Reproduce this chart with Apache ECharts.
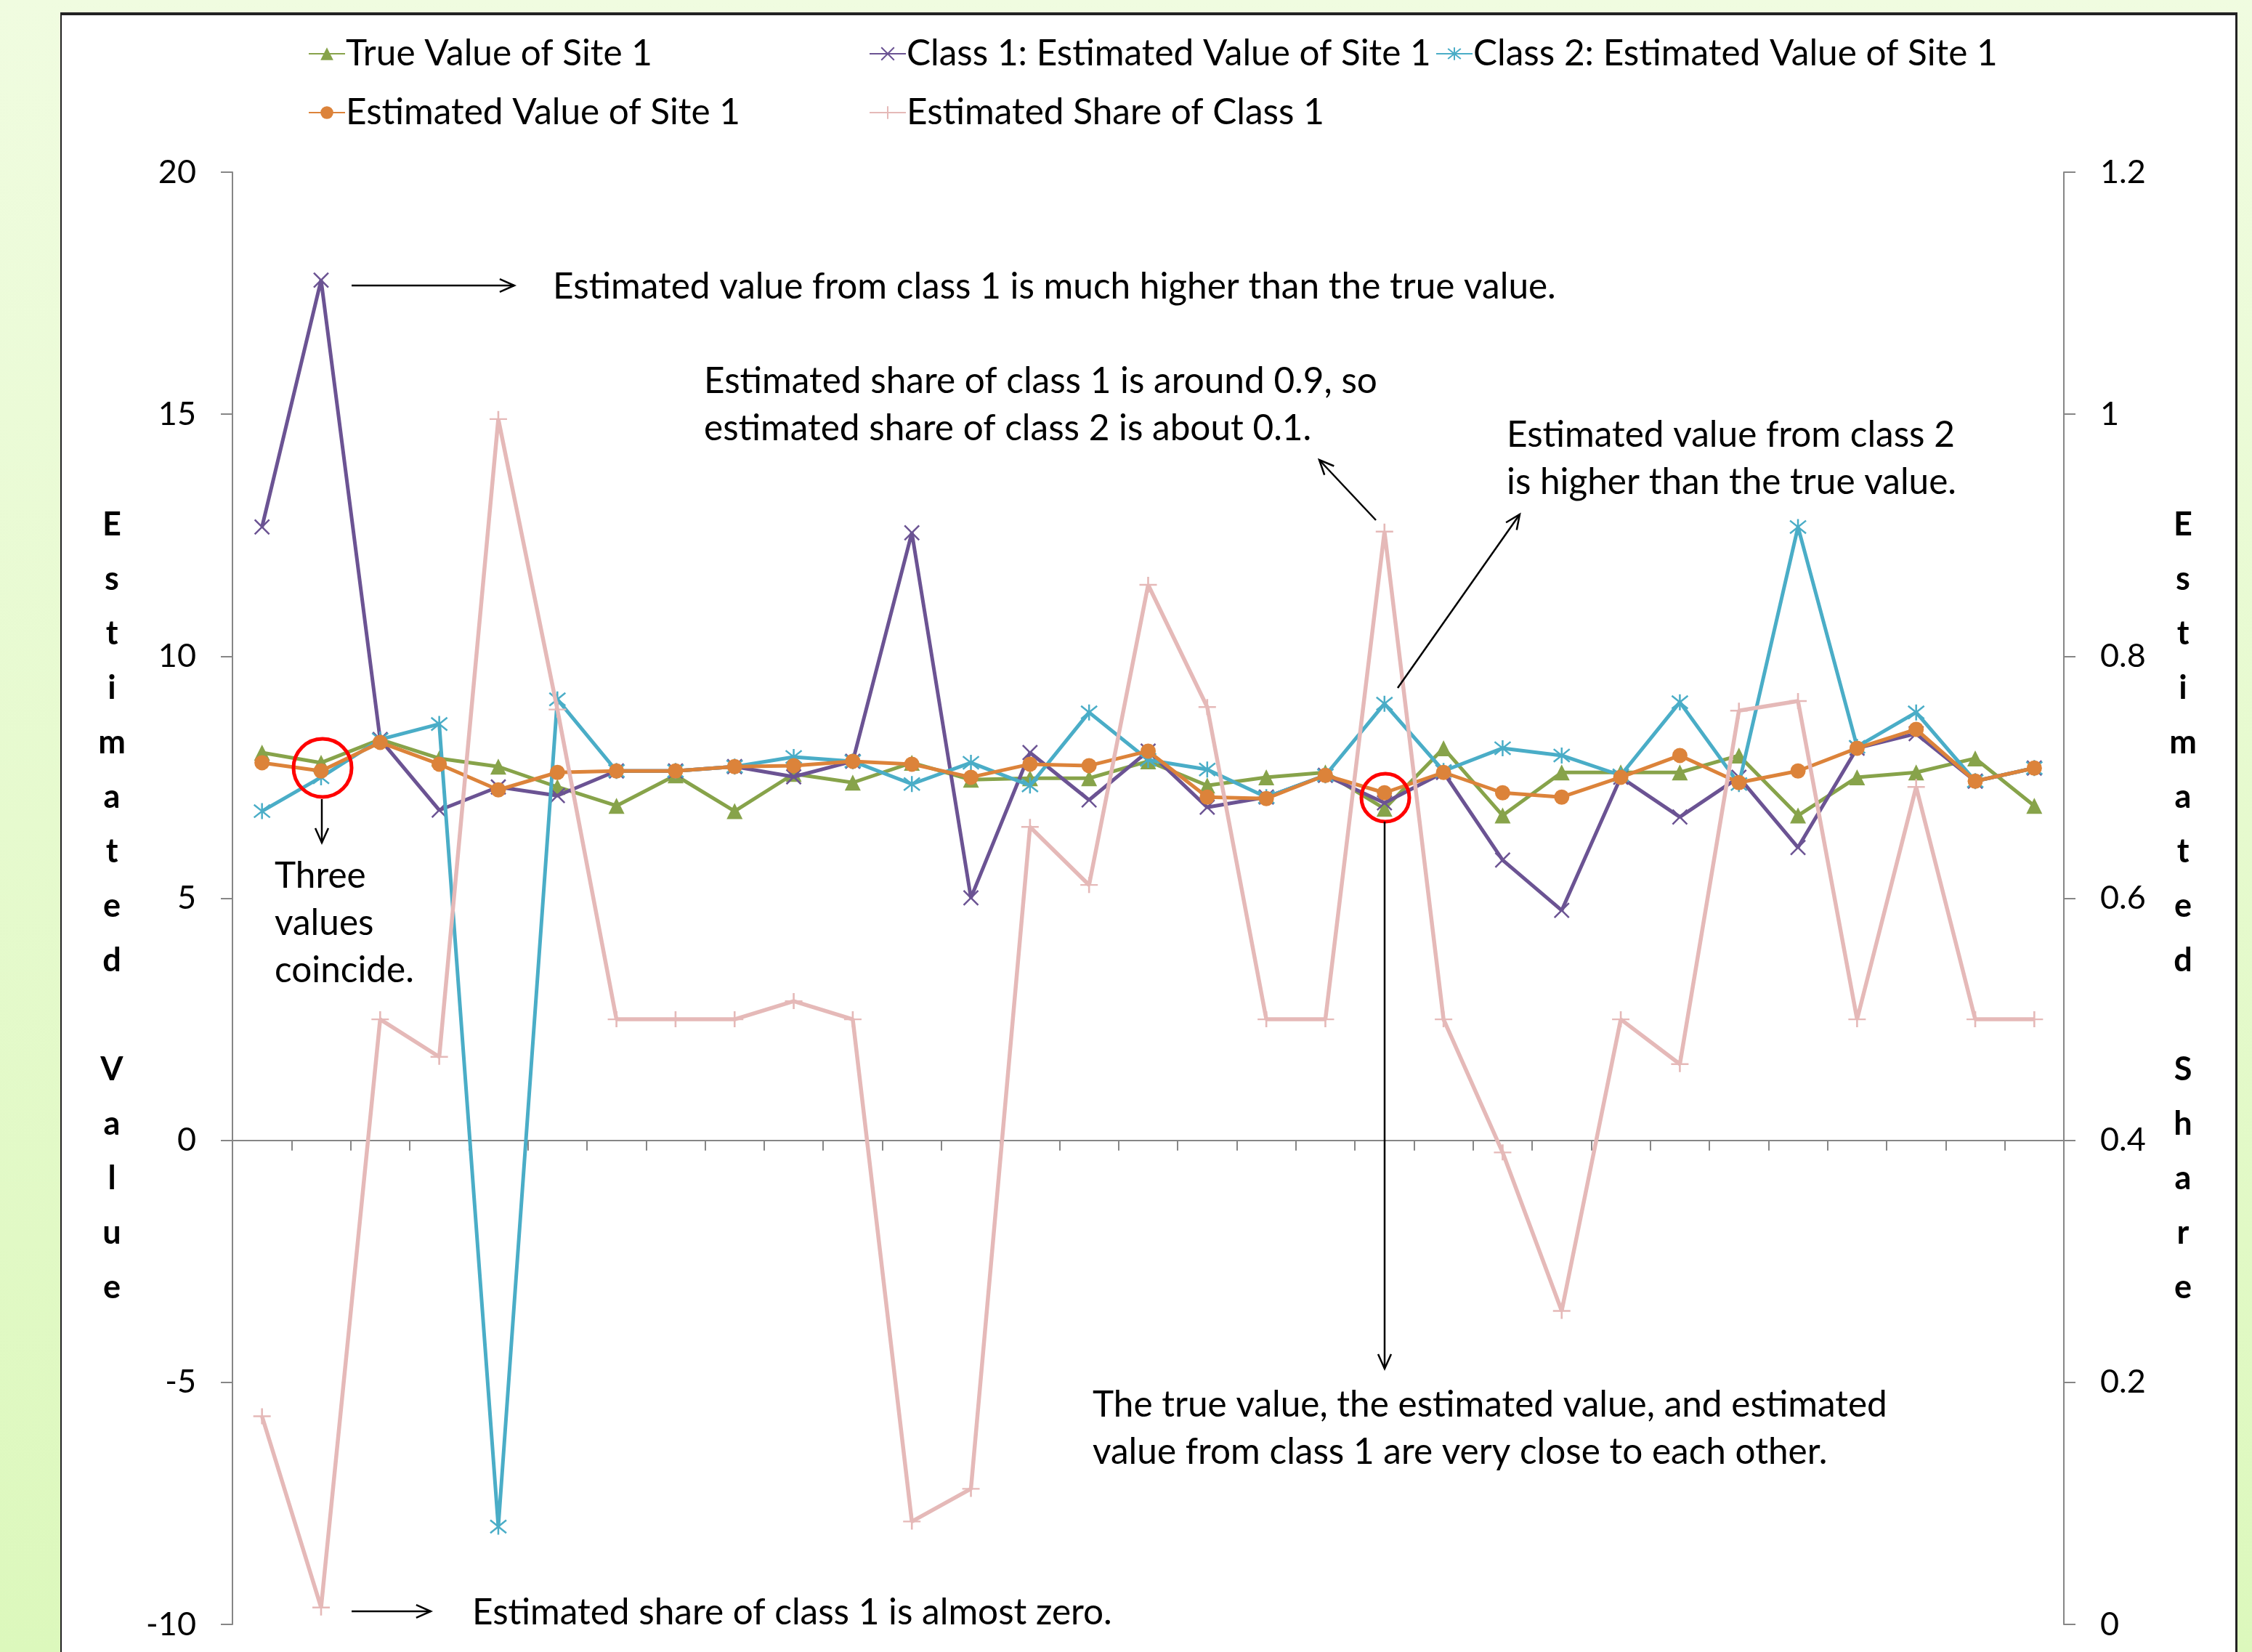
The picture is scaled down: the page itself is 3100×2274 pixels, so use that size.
<!DOCTYPE html>
<html><head><meta charset="utf-8">
<script src="https://cdn.jsdelivr.net/npm/echarts@6/dist/echarts.min.js"></script>
<style>
html,body{margin:0;padding:0;}
body{width:3100px;height:2274px;background:linear-gradient(to bottom,#f0fce0,#dcf8bc);position:relative;overflow:hidden;}
#panel{position:absolute;left:83px;top:17px;width:2992px;height:2270px;background:#fff;border-left:2px solid #222;border-right:3px solid #222;border-top:4px solid #222;}
#chart{position:absolute;left:0;top:0;width:3100px;height:2274px;}
</style></head>
<body><div id="panel"></div><div id="chart"></div>
<script>
// ---- data ----
const categories = ['1','2','3','4','5','6','7','8','9','10','11','12','13','14','15','16','17','18','19','20','21','22','23','24','25','26','27','28','29','30','31'];
const trueValue = [8.01,7.8,8.28,7.89,7.72,7.3,6.91,7.54,6.8,7.57,7.39,7.8,7.45,7.48,7.48,7.83,7.33,7.5,7.6,6.85,8.1,6.71,7.6,7.6,7.6,7.95,6.71,7.5,7.6,7.89,6.91];
const class1Value = [12.67,17.77,8.28,6.82,7.3,7.12,7.63,7.63,7.72,7.51,7.83,12.55,5.01,8.01,7.03,8.04,6.88,7.09,7.54,6.97,7.6,5.79,4.75,7.5,6.68,7.5,6.05,8.1,8.4,7.42,7.69];
const class2Value = [6.8,7.5,8.28,8.6,-7.98,9.11,7.63,7.63,7.72,7.92,7.83,7.36,7.8,7.33,8.84,7.86,7.66,7.09,7.54,9.02,7.63,8.1,7.95,7.54,9.05,7.36,12.67,8.13,8.84,7.42,7.69];
const estimatedValue = [7.8,7.63,8.22,7.77,7.24,7.6,7.63,7.63,7.72,7.74,7.83,7.77,7.5,7.77,7.74,8.04,7.09,7.06,7.54,7.18,7.6,7.18,7.09,7.5,7.95,7.39,7.63,8.1,8.49,7.42,7.69];
const shareClass1 = [0.172,0.014,0.5,0.469,0.996,0.756,0.5,0.5,0.5,0.515,0.5,0.085,0.112,0.659,0.611,0.859,0.758,0.5,0.5,0.903,0.5,0.39,0.259,0.5,0.463,0.755,0.763,0.5,0.692,0.5,0.5];
const seriesNames = ['True Value of Site 1','Class 1: Estimated Value of Site 1','Class 2: Estimated Value of Site 1','Estimated Value of Site 1','Estimated Share of Class 1'];
const leftTitle = 'Estimated Value';
const rightTitle = 'Estimated Share';

const FONT = 'Lato, "Open Sans", sans-serif';
const FS = 45;      // axis labels / titles
const FT = 49.5;    // annotations and legend
const C = {green:'#87a34a', purple:'#6b5393', cyan:'#4aadc7', orange:'#dc833a', pink:'#e5b9b8'};

const chart = echarts.init(document.getElementById('chart'), null, {renderer:'canvas'});

function stackLetters(s){ return s.split('').join('\n'); }

function arrow(x1,y1,x2,y2){
  const ang = Math.atan2(y2-y1,x2-x1), L=22, a=0.42;
  const p1=[x2-L*Math.cos(ang-a), y2-L*Math.sin(ang-a)];
  const p2=[x2-L*Math.cos(ang+a), y2-L*Math.sin(ang+a)];
  return [
    {type:'line', shape:{x1,y1,x2,y2}, style:{stroke:'#000', lineWidth:2.5}, z:100},
    {type:'polyline', shape:{points:[p1,[x2,y2],p2]}, style:{stroke:'#000', lineWidth:2.5, fill:null}, z:100}
  ];
}
function txt(x,y,t){
  return {type:'text', z:100, style:{text:t, x, y, fill:'#000', font:FT+'px '+FONT, textVerticalAlign:'middle', lineHeight:65}};
}

const legendPos = [[419,44],[1191,44],[1971,44],[419,125],[1191,125]];
const legends = seriesNames.map((n,i)=>({
  data:[n], left:legendPos[i][0], top:legendPos[i][1], itemWidth:50, itemHeight:22, itemGap:0,
  textStyle:{fontSize:FT, fontFamily:FONT, color:'#000', padding:[0,0,0,-4]}
}));

const lineW = 5;
const option = {
  animation:false,
  legend: legends,
  grid:{left:320, top:237, width:2521, height:1999, outerBoundsMode:'none'},
  xAxis:{type:'category', data:categories, boundaryGap:true,
    axisLine:{onZero:true, lineStyle:{color:'#868686', width:2}},
    axisTick:{show:true, length:14, interval:0, lineStyle:{color:'#868686', width:2}},
    axisLabel:{show:false}, splitLine:{show:false}},
  yAxis:[
    {type:'value', min:-10, max:20, interval:5, position:'left',
     axisLine:{show:true, onZero:false, lineStyle:{color:'#868686', width:2}},
     axisTick:{show:true, length:16, lineStyle:{color:'#868686', width:2}},
     axisLabel:{margin:50, fontSize:FS, fontFamily:FONT, color:'#000'}, splitLine:{show:false}},
    {type:'value', min:0, max:1.2, interval:0.2, position:'right',
     axisLine:{show:true, onZero:false, lineStyle:{color:'#868686', width:2}},
     axisTick:{show:true, length:16, lineStyle:{color:'#868686', width:2}},
     axisLabel:{margin:50, fontSize:FS, fontFamily:FONT, color:'#000'}, splitLine:{show:false}}
  ],
  series:[
    {name:seriesNames[0], type:'line', data:trueValue, yAxisIndex:0, symbol:'triangle', symbolSize:22, showAllSymbol:true,
     itemStyle:{color:C.green}, lineStyle:{color:C.green, width:lineW}, z:2},
    {name:seriesNames[1], type:'line', data:class1Value, yAxisIndex:0, symbol:'path://M0,0L10,10M10,0L0,10', symbolSize:20, showAllSymbol:true,
     itemStyle:{color:'rgba(0,0,0,0)', borderColor:C.purple, borderWidth:2.5}, lineStyle:{color:C.purple, width:lineW}, z:3},
    {name:seriesNames[2], type:'line', data:class2Value, yAxisIndex:0, symbol:'path://M1,1L9,9M9,1L1,9M5,0L5,10', symbolSize:22, showAllSymbol:true,
     itemStyle:{color:'rgba(0,0,0,0)', borderColor:C.cyan, borderWidth:2.5}, lineStyle:{color:C.cyan, width:lineW}, z:4},
    {name:seriesNames[3], type:'line', data:estimatedValue, yAxisIndex:0, symbol:'circle', symbolSize:21, showAllSymbol:true,
     itemStyle:{color:C.orange}, lineStyle:{color:C.orange, width:lineW}, z:5},
    {name:seriesNames[4], type:'line', data:shareClass1, yAxisIndex:1, symbol:'path://M0,5L10,5M5,1L5,9', symbolSize:[24,22], showAllSymbol:true,
     itemStyle:{color:'rgba(0,0,0,0)', borderColor:C.pink, borderWidth:2.5}, lineStyle:{color:C.pink, width:5.5}, z:6}
  ],
  graphic: [
    {type:'text', z:100, style:{text:stackLetters(leftTitle), x:154, y:1247, fill:'#000', font:'bold '+FS+'px '+FONT, textAlign:'center', textVerticalAlign:'middle', lineHeight:75}},
    {type:'text', z:100, style:{text:stackLetters(rightTitle), x:3005, y:1247, fill:'#000', font:'bold '+FS+'px '+FONT, textAlign:'center', textVerticalAlign:'middle', lineHeight:75}},
    ...arrow(484,393,708,393),
    txt(761,395,'Estimated value from class 1 is much higher than the true value.'),
    txt(969,558,'Estimated share of class 1 is around 0.9, so\nestimated share of class 2 is about 0.1.'),
    ...arrow(1894,716,1816,633),
    txt(2074,632,'Estimated value from class 2\nis higher than the true value.'),
    ...arrow(1924,947,2092,708),
    {type:'circle', z:100, shape:{cx:444, cy:1057, r:40}, style:{fill:null, stroke:'#ff0000', lineWidth:5}},
    ...arrow(443,1100,443,1160),
    txt(378,1271,'Three\nvalues\ncoincide.'),
    {type:'circle', z:100, shape:{cx:1907, cy:1098, r:33}, style:{fill:null, stroke:'#ff0000', lineWidth:5}},
    ...arrow(1906,1131,1906,1884),
    txt(1504,1967,'The true value, the estimated value, and estimated\nvalue from class 1 are very close to each other.'),
    ...arrow(484,2218,593,2218),
    txt(650,2220,'Estimated share of class 1 is almost zero.')
  ]
};
chart.setOption(option);
</script></body></html>
